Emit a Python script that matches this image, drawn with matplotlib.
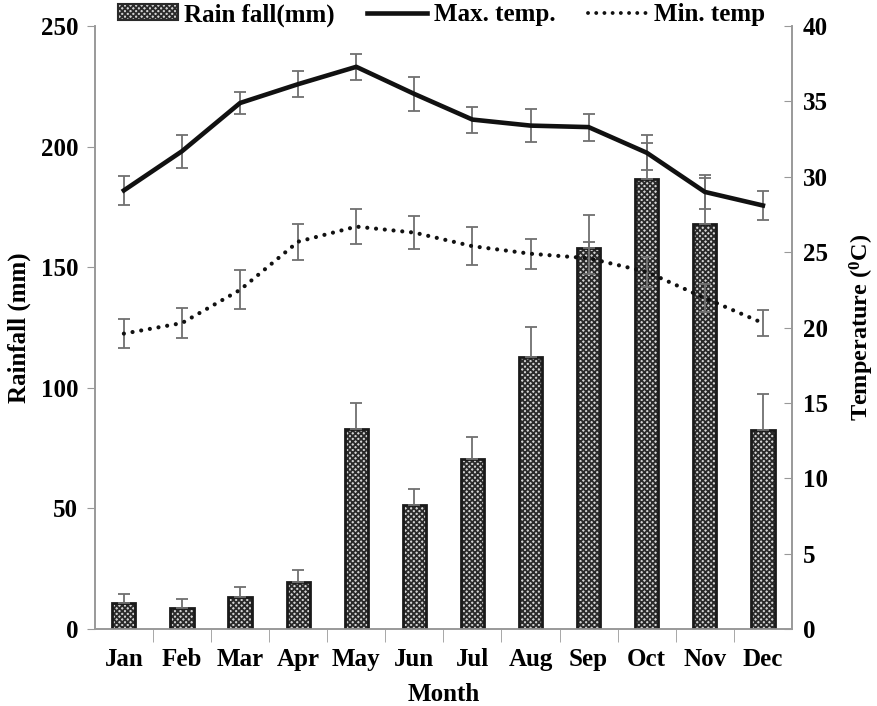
import matplotlib
matplotlib.use("Agg")
import matplotlib.pyplot as plt
import numpy as np
from matplotlib.patches import Patch
from matplotlib.lines import Line2D

plt.rcParams['font.family'] = ['Liberation Serif', 'DejaVu Serif']
plt.rcParams['font.weight'] = 'bold'
plt.rcParams['mathtext.fontset'] = 'custom'
plt.rcParams['mathtext.rm'] = 'Liberation Serif:bold'
plt.rcParams['mathtext.default'] = 'rm'
plt.rcParams['hatch.linewidth'] = 1.3

months = ['Jan', 'Feb', 'Mar', 'Apr', 'May', 'Jun', 'Jul', 'Aug', 'Sep', 'Oct', 'Nov', 'Dec']
rain = [10.8, 8.7, 13.3, 19.5, 82.9, 51.4, 70.5, 112.8, 157.8, 186.6, 167.9, 82.5]
rain_err = [3.7, 3.7, 4.1, 5.0, 11.0, 6.6, 9.3, 12.4, 14.0, 15.0, 19.0, 15.0]
tmax = [29.1, 31.7, 34.9, 36.15, 37.3, 35.5, 33.8, 33.4, 33.3, 31.6, 29.0, 28.1]
tmax_err = [0.96, 1.1, 0.73, 0.86, 0.87, 1.1, 0.86, 1.1, 0.9, 1.15, 1.1, 0.96]
tmin = [19.6, 20.3, 22.5, 25.7, 26.7, 26.3, 25.4, 24.9, 24.6, 23.7, 21.96, 20.3]
tmin_err = [0.96, 1.0, 1.3, 1.2, 1.16, 1.1, 1.26, 1.0, 1.07, 1.0, 0.9, 0.86]

x = np.arange(len(months))
grey = '#707070'
dots = (0, (0.01, 2.1))

fig = plt.figure(figsize=(8.78, 7.06), dpi=100)
ax = fig.add_axes([0.108, 0.109, 0.794, 0.854])
ax2 = ax.twinx()

# bars: hatched fill, then black outline on top
ax.bar(x, rain, width=0.4, color='#d4d4d4', edgecolor='#2a2a2a', hatch='xxxxxx', linewidth=0, zorder=2)
ax.bar(x, rain, width=0.4, fill=False, edgecolor='#1a1a1a', linewidth=2, zorder=3)
ax.errorbar(x, rain, yerr=[np.zeros(len(rain)), rain_err], fmt='none', ecolor=grey,
            elinewidth=1.3, capsize=4.5, capthick=1.3, zorder=4)

ax2.errorbar(x, tmax, yerr=tmax_err, fmt='none', ecolor=grey, elinewidth=1.3, capsize=4.5, capthick=1.3, zorder=4)
ax2.errorbar(x, tmin, yerr=tmin_err, fmt='none', ecolor=grey, elinewidth=1.3, capsize=4.5, capthick=1.3, zorder=4)
ax2.plot(x, tmax, color='#111111', linewidth=3.3, zorder=5)
ax2.plot(x, tmin, color='#111111', linewidth=3.0, linestyle=dots,
         dash_capstyle='round', zorder=5)

ax.set_xlim(-0.5, 11.5)
ax.set_ylim(0, 250)
ax2.set_ylim(0, 40)
ax.set_yticks(range(0, 251, 50))
ax2.set_yticks(range(0, 41, 5))
ax.set_xticks(x)
ax.set_xticklabels(months)
ax.set_xticks(np.arange(0.5, 11.5, 1), minor=True)
ax.tick_params(axis='x', which='major', length=0, pad=14, labelsize=18)
ax.tick_params(axis='x', which='minor', length=9, color='#999999', direction='out')
ax.tick_params(axis='y', length=6, color='#999999', direction='out', labelsize=18, pad=6)
ax2.tick_params(axis='y', length=6, color='#999999', direction='in', labelsize=18, pad=8)

for a in (ax, ax2):
    a.spines['top'].set_visible(False)
    for s in ('left', 'right', 'bottom'):
        a.spines[s].set_color('#999999')
        a.spines[s].set_linewidth(1.2)

ax.set_xlabel('Month', fontsize=18, fontweight='bold', labelpad=8)
ax.set_ylabel('Rainfall (mm)', fontsize=18, fontweight='bold', labelpad=7)
ax2.set_ylabel('Temperature ($^0$C)', fontsize=17.5, fontweight='bold', labelpad=14)

handles = [Patch(facecolor='#d4d4d4', edgecolor='#2a2a2a', hatch='xxxxxx', linewidth=1.5),
           Line2D([], [], color='#111111', linewidth=3.3),
           Line2D([], [], color='#111111', linewidth=2.8, linestyle=dots, dash_capstyle='round')]
fig.legend(handles, ['Rain fall(mm)', 'Max. temp.', 'Min. temp'], loc='center',
           bbox_to_anchor=(0.503, 0.979), ncol=3, frameon=False, fontsize=18,
           handlelength=2.4, handleheight=0.6, handletextpad=0.25, columnspacing=1.3,
           borderpad=0, borderaxespad=0)

fig.savefig('out.png', dpi=100)
